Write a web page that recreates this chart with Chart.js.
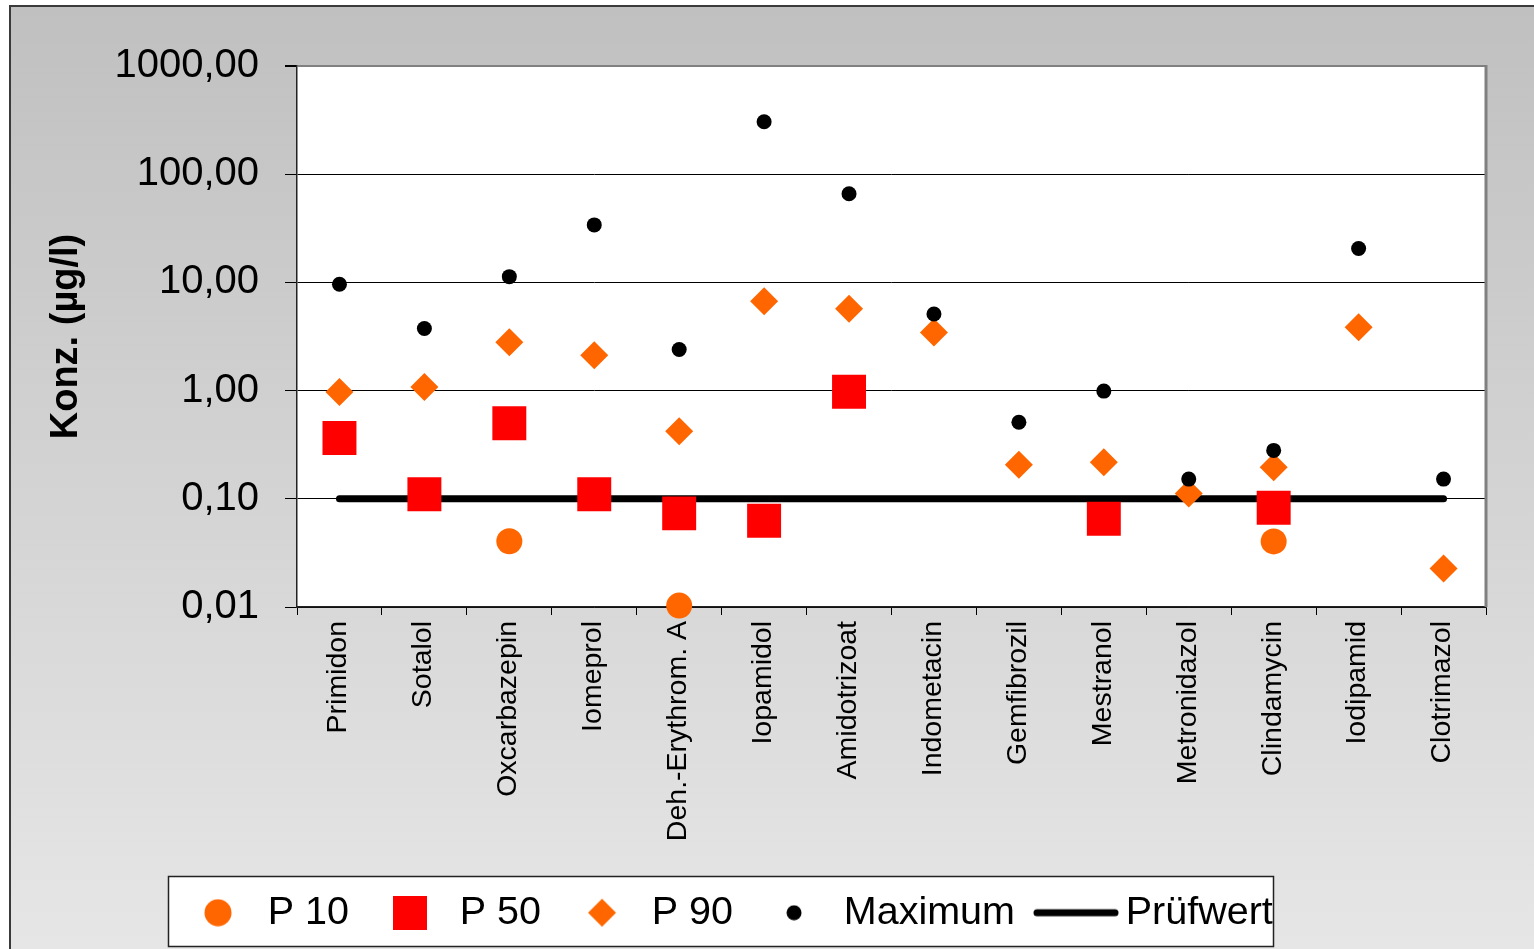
<!DOCTYPE html>
<html>
<head>
<meta charset="utf-8">
<script src="https://cdn.jsdelivr.net/npm/chart.js@4/dist/chart.umd.min.js"></script>
<style>
html,body{margin:0;padding:0;background:#fff;}
#wrap{width:1534px;height:949px;}
</style>
</head>
<body>
<div id="wrap"><canvas id="c" width="1534" height="949"></canvas></div>
<script>
const categories = ['Primidon','Sotalol','Oxcarbazepin','Iomeprol','Deh.-Erythrom. A','Iopamidol','Amidotrizoat','Indometacin','Gemfibrozil','Mestranol','Metronidazol','Clindamycin','Iodipamid','Clotrimazol'];
const p10 = [null, null, 0.0405, null, 0.0103, null, null, null, null, null, null, 0.0404, null, null];
const p50 = [0.364, 0.110, 0.50, 0.110, 0.0733, 0.0628, 0.975, null, null, 0.0655, null, 0.0826, null, null];
const p90 = [0.97, 1.08, 2.8, 2.12, 0.42, 6.7, 5.7, 3.45, 0.206, 0.218, 0.112, 0.196, 3.85, 0.0227];
const maximum = [9.6, 3.75, 11.3, 34, 2.4, 305, 66, 5.1, 0.51, 0.99, 0.152, 0.28, 20.6, 0.152];
const pruefwert = [0.1, 0.1, 0.1, 0.1, 0.1, 0.1, 0.1, 0.1, 0.1, 0.1, 0.1, 0.1, 0.1, 0.1];
const yTicks = [0.01, 0.1, 1, 10, 100, 1000];
const seriesNames = ['P 10', 'P 50', 'P 90', 'Maximum', 'Prüfwert'];

const FONT = '"Liberation Sans", Arial, sans-serif';
const ORANGE = '#ff6600', RED = '#ff0000', BLACK = '#000000';

function swatch(w, h, draw) {
  const c = document.createElement('canvas');
  c.width = w; c.height = h;
  draw(c.getContext('2d'), w, h);
  return c;
}
const legendIcons = [
  swatch(28, 28, (g) => { g.fillStyle = ORANGE; g.beginPath(); g.arc(14, 14, 13.5, 0, Math.PI * 2); g.fill(); }),
  swatch(34, 34, (g) => { g.fillStyle = RED; g.fillRect(0, 0, 34, 34); }),
  swatch(30, 30, (g) => { g.fillStyle = ORANGE; g.beginPath(); g.moveTo(1, 15); g.lineTo(15, 1); g.lineTo(29, 15); g.lineTo(15, 29); g.closePath(); g.fill(); }),
  swatch(16, 16, (g) => { g.fillStyle = BLACK; g.beginPath(); g.arc(8, 8, 7.5, 0, Math.PI * 2); g.fill(); }),
  swatch(86, 10, (g) => { g.strokeStyle = BLACK; g.lineWidth = 7; g.lineCap = 'round'; g.beginPath(); g.moveTo(4, 5); g.lineTo(82, 5); g.stroke(); })
];

const decor = {
  id: 'decor',
  beforeDraw(chart) {
    const g = chart.ctx;
    const W = chart.width, H = chart.height;
    g.save();
    g.fillStyle = '#ffffff';
    g.fillRect(0, 0, W, H);
    const grad = g.createLinearGradient(0, 5, 0, H);
    grad.addColorStop(0, '#c0c0c0');
    grad.addColorStop(1, '#e6e6e6');
    g.fillStyle = grad;
    g.fillRect(10, 6, W, H);
    g.strokeStyle = '#3a3a3a';
    g.lineWidth = 2;
    g.strokeRect(10, 6, W + 10, H + 10);
    const a = chart.chartArea;
    g.fillStyle = '#ffffff';
    g.fillRect(a.left, a.top, a.right - a.left, a.bottom - a.top);
    g.fillStyle = '#ffffff';
    g.fillRect(168, 876, 1105, 70);
    g.strokeStyle = '#222222';
    g.lineWidth = 1.5;
    g.strokeRect(168.5, 876.5, 1105, 70);
    g.restore();
    if (chart.legend) {
      const L = chart.legend;
      L.left = 157; L.right = 1534; L.top = 862; L.bottom = 862 + L.height;
      L.width = L.right - L.left;
    }
  },
  beforeDatasetsDraw(chart) {
    const g = chart.ctx, a = chart.chartArea;
    g.save();
    g.strokeStyle = '#808080';
    g.lineWidth = 3;
    g.beginPath();
    g.moveTo(a.right, a.top - 1);
    g.lineTo(a.right, a.bottom);
    g.stroke();
    g.restore();
  }
};

const ds = [
  { label: seriesNames[0], data: p10, showLine: false, pointStyle: 'circle', pointRadius: 13, pointHoverRadius: 13, backgroundColor: ORANGE, borderColor: ORANGE, pointBorderWidth: 0, order: 4, clip: false },
  { label: seriesNames[1], data: p50, showLine: false, pointStyle: 'rect', pointRadius: 24, pointHoverRadius: 24, backgroundColor: RED, borderColor: RED, pointBorderWidth: 0, order: 3, clip: false },
  { label: seriesNames[2], data: p90, showLine: false, pointStyle: 'rectRot', pointRadius: 14, pointHoverRadius: 14, backgroundColor: ORANGE, borderColor: ORANGE, pointBorderWidth: 0, order: 2, clip: false },
  { label: seriesNames[3], data: maximum, showLine: false, pointStyle: 'circle', pointRadius: 7.5, pointHoverRadius: 7.5, backgroundColor: BLACK, borderColor: BLACK, pointBorderWidth: 0, order: 1, clip: false },
  { label: seriesNames[4], data: pruefwert, showLine: true, pointRadius: 0, pointHoverRadius: 0, borderColor: BLACK, backgroundColor: BLACK, borderWidth: 7, borderCapStyle: 'round', borderJoinStyle: 'round', tension: 0, order: 5, clip: false }
];

new Chart(document.getElementById('c'), {
  type: 'line',
  data: { labels: categories, datasets: ds },
  plugins: [decor],
  options: {
    responsive: false,
    devicePixelRatio: 1,
    animation: false,
    events: [],
    layout: { padding: { left: 0, top: 66, right: 48, bottom: 0 } },
    plugins: {
      tooltip: { enabled: false },
      legend: {
        display: true,
        position: 'bottom',
        align: 'start',
        labels: {
          usePointStyle: true,
          pointStyleWidth: 60,
          padding: 31,
          color: '#000',
          font: { family: FONT, size: 39.5 },
          generateLabels(chart) {
            return chart.data.datasets.map((d, i) => ({
              text: d.label,
              pointStyle: legendIcons[i],
              fillStyle: d.backgroundColor,
              strokeStyle: d.borderColor,
              lineWidth: 0,
              hidden: false,
              datasetIndex: i,
              fontColor: '#000'
            }));
          }
        }
      }
    },
    scales: {
      x: {
        type: 'category',
        offset: true,
        afterFit(scale) {
          const lh = (scale.chart.legend && scale.chart.legend.height) || 80;
          scale.height = 949 - 607 - lh;
        },
        grid: { display: true, offset: true, drawOnChartArea: false, drawTicks: true, tickLength: 8, color: '#000', lineWidth: 1 },
        border: { display: true, color: '#222', width: 1.5 },
        ticks: { autoSkip: false, minRotation: 90, maxRotation: 90, padding: 6, labelOffset: -1, color: '#000', font: { family: FONT, size: 28.5 } }
      },
      y: {
        type: 'logarithmic',
        min: 0.01,
        max: 1000,
        afterFit(scale) { scale.width = 297; },
        afterBuildTicks(scale) { scale.ticks = yTicks.map(v => ({ value: v, major: true })); },
        grid: {
          color: (c) => (c.tick && c.tick.value === 1000 ? '#808080' : '#000'),
          lineWidth: (c) => (c.tick && c.tick.value === 1000 ? 2 : 1),
          tickColor: '#000',
          tickLength: 12,
          drawTicks: true
        },
        border: { display: true, color: '#222', width: 1.5 },
        ticks: {
          padding: 26,
          color: '#000',
          font: { family: FONT, size: 40 },
          callback: (v) => Number(v).toFixed(2).replace('.', ',')
        },
        title: {
          display: true,
          text: 'Konz. (µg/l)',
          color: '#000',
          font: { family: FONT, size: 38, weight: 'bold' },
          padding: { top: 44, bottom: 0 }
        }
      }
    }
  }
});
</script>
</body>
</html>
